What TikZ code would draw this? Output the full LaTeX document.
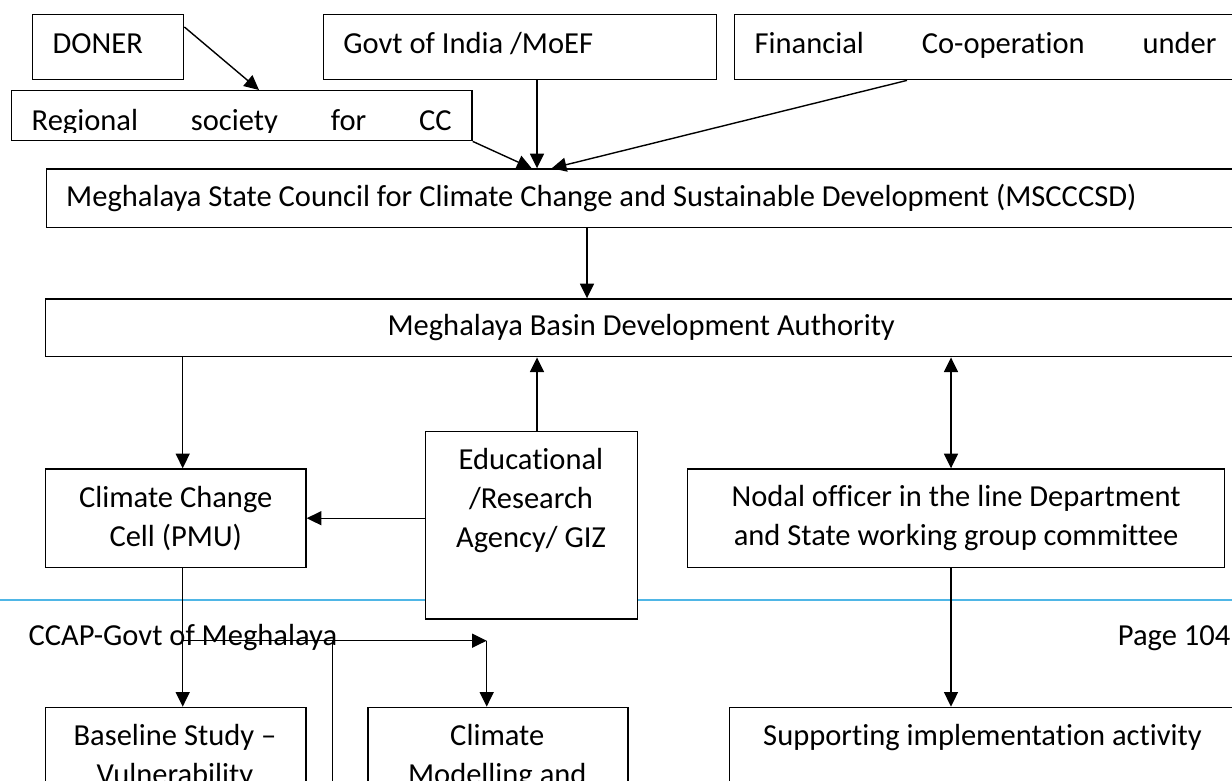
\documentclass[tikz,border=0pt]{standalone}
\usepackage{fontspec}
\setmainfont{Carlito}[Ligatures=NoCommon]
\usetikzlibrary{arrows.meta,calc}
\definecolor{footerblue}{RGB}{79,182,230}
\newcommand{\boxfont}{\fontsize{22.9pt}{29.25pt}\selectfont}
\tikzset{every picture/.style={line width=1.05pt},
  box/.style={draw, fill=white, inner sep=0pt, font=\boxfont, anchor=north west},
  toprow/.style={text height=15pt, text depth=5.2pt},
  boxtext/.style={inner sep=0pt, align=center, font=\boxfont},
  arr/.style={-{Triangle[length=11pt,width=10.5pt]}},
  dblarr/.style={{Triangle[length=11pt,width=10.5pt]}-{Triangle[length=11pt,width=10.5pt]}}}

\begin{document}
\begin{tikzpicture}[x=0.75pt,y=0.75pt,yscale=-1,xscale=1]
\useasboundingbox (0,0) rectangle (1232,781);
\clip (0,0) rectangle (1232,781);

%Straight Lines [footer rule]
\draw [color=footerblue, line width=1.1pt] (0,600) coordinate (rulel) -- (1232,600) coordinate (ruler);
% Text Node
\node [boxtext, anchor=base west] (footleft) at (28,645) {CCAP-Govt of Meghalaya};
% Text Node
\node [boxtext, anchor=base east] (footright) at (1231,645.5) {Page 104};

%Shape: Rectangle
\node [box, toprow, minimum width=113.25pt, minimum height=48.75pt] (doner) at (32,14) {\makebox[83.25pt][l]{DONER}};
%Shape: Rectangle
\node [box, toprow, minimum width=294.75pt, minimum height=48.75pt] (govt) at (322.6,14) {\makebox[264.75pt][l]{Govt of India /MoEF}};
%Shape: Rectangle
\node [box, toprow, minimum width=376.5pt, minimum height=48.75pt] (fin) at (734,14) {\makebox[346.5pt][s]{Financial Co-operation under}};
%Shape: Rectangle
\node [box, minimum width=345.45pt, minimum height=37.5pt] (regional) at (10.7,90) {};
\begin{scope}
\clip (regional.north west) rectangle ($(regional.south east)+(0,-9)$);
% Text Node
\node [boxtext, anchor=base west] (regtext) at (31,130.5) {\makebox[315pt][s]{Regional society for CC}};
\end{scope}
%Shape: Rectangle
\node [box, minimum width=892.9pt, minimum height=43.8pt] (msc) at (45.5,168.3) {\makebox[862.9pt][l]{Meghalaya State Council for Climate Change and Sustainable Development (MSCCCSD)}};
%Shape: Rectangle
\node [box, minimum width=893.25pt, minimum height=43.3pt] (basin) at (45,298.3) {Meghalaya Basin Development Authority};
%Shape: Rectangle
\node [box, minimum width=195.45pt, minimum height=73.8pt, align=center] (ccc) at (44.7,468.3) {Climate Change\\Cell (PMU)};
%Shape: Rectangle
\node [box, minimum width=159pt, minimum height=140.7pt] (edu) at (425,430.7) {};
% Text Node
\node [boxtext, anchor=north] (edutext) at (531,448) {Educational\\/Research\\Agency/ GIZ};
%Shape: Rectangle
\node [box, minimum width=403pt, minimum height=73.8pt, align=center] (nodal) at (686.7,468.3) {Nodal officer in the line Department\\and State working group committee};
%Shape: Rectangle
\node [box, minimum width=195.45pt, minimum height=90pt] (baseline) at (44.7,706.7) {};
% Text Node
\node [boxtext, anchor=north] (basetext) at (175,724) {Baseline Study –\\Vulnerability};
%Shape: Rectangle
\node [box, minimum width=195.1pt, minimum height=90pt] (model) at (367.3,706.7) {};
% Text Node
\node [boxtext, anchor=north] (modeltext) at (497.3,724) {Climate\\Modelling and};
%Shape: Rectangle
\node [box, minimum width=380.25pt, minimum height=90pt] (support) at (729,706.7) {};
% Text Node
\node [boxtext, anchor=north] (supporttext) at (982.5,724) {Supporting implementation activity};

% connector columns
\coordinate (colA) at (182.7,0);
\coordinate (colG) at (537,0);
\coordinate (colM) at (587,0);
\coordinate (colN) at (951,0);
\coordinate (jn) at (486.7,640.7);
\coordinate (lowend) at (332.7,790);

%Straight Lines
\draw [arr] ($(doner.north east)+(0,13)$) -- ($(regional.north west)+(248.3,0)$);
%Straight Lines
\draw [arr] (govt.south -| colG) -- (msc.north -| colG);
%Straight Lines
\draw [arr] (regional.south east) -- ($(msc.north west)+(486.2,0)$);
%Straight Lines
\draw [arr] ($(fin.south west)+(173,0)$) -- ($(msc.north west)+(506.2,0)$);
%Straight Lines
\draw [arr] (msc.south -| colM) -- (basin.north -| colM);
%Straight Lines
\draw [arr] (basin.south -| colA) -- (ccc.north -| colA);
%Straight Lines
\draw [arr] (edu.north -| colG) -- (basin.south -| colG);
%Straight Lines
\draw [dblarr] (basin.south -| colN) -- (nodal.north -| colN);
%Straight Lines
\draw [arr] (edu.west |- ccc.east) -- (ccc.east);
%Straight Lines
\draw [arr] (ccc.south -| colA) -- (baseline.north -| colA);
%Straight Lines
\draw [arr] (nodal.south -| colN) -- (support.north -| colN);
%Straight Lines
\draw [arr] (colA |- jn) -- (jn);
%Straight Lines
\draw [arr] (jn) -- (model.north -| jn);
%Straight Lines
\draw (lowend) -- (lowend |- jn);
\end{tikzpicture}
\end{document}
